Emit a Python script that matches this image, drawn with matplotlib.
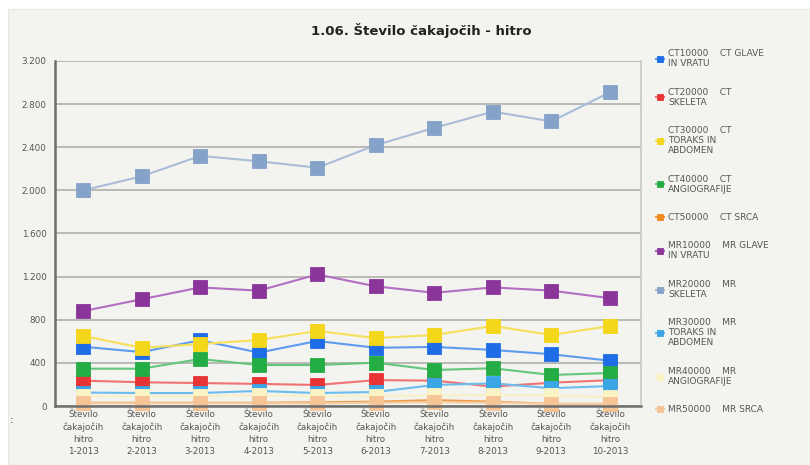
import matplotlib.pyplot as plt
from matplotlib.patches import Rectangle
from matplotlib.ticker import FuncFormatter

# Data
months = ["1-2013", "2-2013", "3-2013", "4-2013", "5-2013",
          "6-2013", "7-2013", "8-2013", "9-2013", "10-2013"]
x_labels = ["Število\nčakajočih\nhitro\n" + m for m in months]

series_names = [
    "CT10000    CT GLAVE\nIN VRATU",
    "CT20000    CT\nSKELETA",
    "CT30000    CT\nTORAKS IN\nABDOMEN",
    "CT40000    CT\nANGIOGRAFIJE",
    "CT50000    CT SRCA",
    "MR10000    MR GLAVE\nIN VRATU",
    "MR20000    MR\nSKELETA",
    "MR30000    MR\nTORAKS IN\nABDOMEN",
    "MR40000    MR\nANGIOGRAFIJE",
    "MR50000    MR SRCA",
]

ct10000 = [550, 500, 610, 495, 603, 540, 548, 520, 480, 420]
ct20000 = [235, 220, 213, 205, 195, 240, 235, 180, 216, 240]
ct30000 = [650, 540, 575, 612, 696, 630, 659, 742, 659, 742]
ct40000 = [346, 346, 436, 380, 380, 402, 334, 350, 288, 306]
ct50000 = [30, 30, 30, 30, 35, 40, 55, 40, 20, 20]
mr10000 = [880, 990, 1100, 1070, 1220, 1110, 1050, 1100, 1070, 1000]
mr20000 = [2000, 2130, 2320, 2270, 2210, 2420, 2580, 2730, 2640, 2910]
mr30000 = [125, 120, 120, 140, 120, 130, 195, 210, 165, 185]
mr40000 = [90, 90, 90, 100, 90, 90, 100, 100, 100, 80]
mr50000 = [25, 25, 25, 25, 25, 30, 35, 30, 20, 20]

values = [ct10000, ct20000, ct30000, ct40000, ct50000,
          mr10000, mr20000, mr30000, mr40000, mr50000]

marker_colors = ["#1e6de6", "#e83434", "#f4d61a", "#25ad45", "#f08a1e",
                 "#8a3599", "#85a2c8", "#3aa6e6", "#faf4c4", "#f5c597"]
line_colors = ["#5d9bef", "#f07272", "#f6df5a", "#63c67a", "#f29c48",
               "#b26fc2", "#a9bdd9", "#6cbdec", "#f8f1c8", "#f3cfa8"]

bg = "#f3f3ef"

fig = plt.figure(figsize=(8.1, 4.65), dpi=100, facecolor="white")
panel = Rectangle((8 / 810, 0), 1, 1 - 9 / 465, transform=fig.transFigure,
                  facecolor=bg, edgecolor="#e6e6e2", linewidth=0.8, zorder=-10)
fig.add_artist(panel)

ax = fig.add_axes([55 / 810, 59 / 465, (641 - 55) / 810, (406 - 61) / 465])
ax.set_facecolor(bg)

x = range(len(months))
for vals, name, mc, lc in zip(values, series_names, marker_colors, line_colors):
    ax.plot(x, vals, color=lc, linewidth=1.5, marker="s", markersize=9.5,
            markerfacecolor=mc, markeredgecolor=mc, markeredgewidth=0.6,
            label=name, clip_on=False)

ax.set_xlim(-0.48, 9.53)
ax.set_ylim(0, 3200)
ax.set_yticks(range(0, 3201, 400))
ax.yaxis.set_major_formatter(FuncFormatter(lambda v, p: f"{int(v):,}".replace(",", ".")))
ax.set_xticks(list(x))
ax.set_xticklabels(x_labels, fontsize=6.3, color="#555555", linespacing=1.45)
ax.tick_params(axis="y", labelsize=6.3, labelcolor="#555555", length=0, pad=6)
ax.tick_params(axis="x", length=0, pad=3)

ax.grid(axis="y", color="#b4b4b0", linewidth=1.3)
ax.set_axisbelow(True)
for side in ["left", "bottom"]:
    ax.spines[side].set_color("#6e6e6e")
    ax.spines[side].set_linewidth(1.8)
ax.spines["top"].set_visible(False)
ax.spines["right"].set_color("#c8c8c4")
ax.spines["right"].set_linewidth(1.2)

fig.text(0.52, 1 - 31 / 465, "1.06. Število čakajočih - hitro", ha="center", va="center",
         fontsize=9.5, fontweight="bold", color="#222222")

leg = ax.legend(loc="upper left", bbox_to_anchor=(1.02, 1.045), frameon=False,
                fontsize=6.5, labelspacing=2.15, handlelength=0.9, handletextpad=0.4,
                markerscale=0.45, borderaxespad=0)
for t in leg.get_texts():
    t.set_color("#555555")
    t.set_linespacing(1.15)

fig.text(12 / 810, 1 - 420 / 465, ":", fontsize=8, color="#333333", ha="center", va="center")

fig.savefig("out.png", dpi=100, facecolor=fig.get_facecolor())
